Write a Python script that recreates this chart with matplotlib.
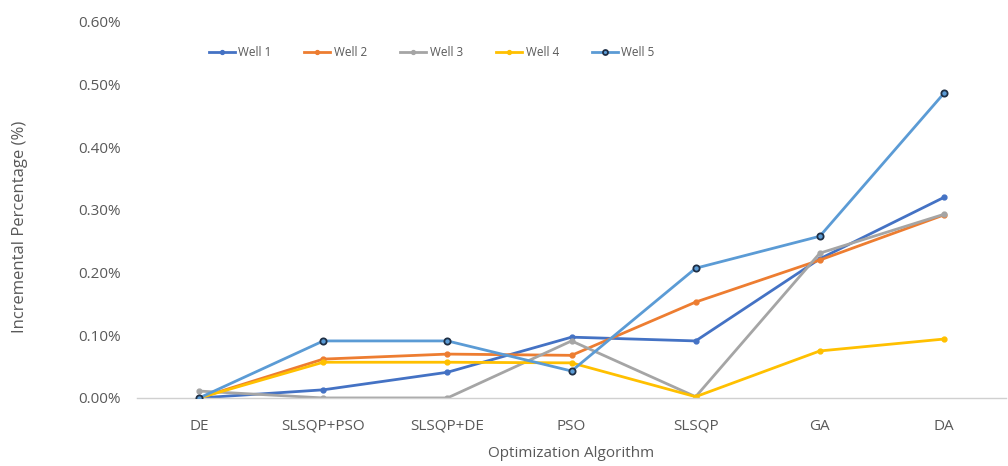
import matplotlib.pyplot as plt
from matplotlib.ticker import PercentFormatter

plt.rcParams['font.family'] = ['Open Sans', 'DejaVu Sans']

algorithms = ['DE', 'SLSQP+PSO', 'SLSQP+DE', 'PSO', 'SLSQP', 'GA', 'DA']
well1 = [0.000, 0.013, 0.041, 0.097, 0.091, 0.222, 0.320]
well2 = [0.000, 0.062, 0.070, 0.068, 0.153, 0.220, 0.292]
well3 = [0.011, 0.000, 0.000, 0.091, 0.002, 0.231, 0.293]
well4 = [0.000, 0.057, 0.057, 0.056, 0.002, 0.075, 0.094]
well5 = [0.000, 0.091, 0.091, 0.043, 0.207, 0.258, 0.486]

series = [
    ('Well 1', well1, '#4472C4'),
    ('Well 2', well2, '#ED7D31'),
    ('Well 3', well3, '#A5A5A5'),
    ('Well 4', well4, '#FFC000'),
    ('Well 5', well5, '#5B9BD5'),
]

fig, ax = plt.subplots(figsize=(10.08, 4.66), dpi=100)
fig.subplots_adjust(left=0.136, right=0.998, bottom=0.146, top=0.953)

x = range(len(algorithms))
for name, vals, col in series:
    if name == 'Well 5':
        ax.plot(x, vals, color=col, lw=2.0, marker='o', ms=4.5,
                mfc='#5B9BD5', mec='#1F2F45', mew=1.3, label=name, zorder=3)
    else:
        ax.plot(x, vals, color=col, lw=2.0, marker='o', ms=3.5,
                mfc=col, mec=col, label=name, zorder=2)

ax.set_xlim(-0.5, len(algorithms) - 0.5)
ax.set_ylim(0, 0.6)
ax.set_yticks([0, 0.1, 0.2, 0.3, 0.4, 0.5, 0.6])
ax.yaxis.set_major_formatter(PercentFormatter(decimals=2))
ax.set_xticks(list(x))
ax.set_xticklabels(algorithms)
ax.tick_params(axis='both', length=0, labelsize=11, labelcolor='#595959')
ax.tick_params(axis='y', pad=12)
ax.tick_params(axis='x', pad=15)

for side in ['top', 'right', 'left']:
    ax.spines[side].set_visible(False)
ax.spines['bottom'].set_color('#D0D0D0')
ax.spines['bottom'].set_linewidth(1.0)

ax.set_xlabel('Optimization Algorithm', fontsize=11, color='#595959', labelpad=9)
ax.set_ylabel('Incremental Percentage (%)', fontsize=12, color='#595959')
ax.yaxis.set_label_coords(-0.126, 0.455)

ax.legend(loc='upper left', bbox_to_anchor=(0.07, 0.965), ncol=5, frameon=False,
          fontsize=8.5, labelcolor='#595959', handlelength=2.2, handletextpad=0.3,
          columnspacing=2.8, markerscale=0.8)

fig.savefig('out.png')
